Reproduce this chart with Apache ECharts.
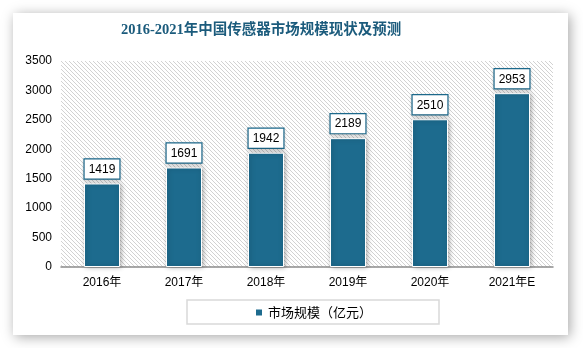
<!DOCTYPE html>
<html>
<head>
<meta charset="utf-8">
<script src="https://cdn.jsdelivr.net/npm/echarts@6/dist/echarts.min.js"></script>
<style>
  html, body { margin: 0; padding: 0; background: #ffffff; }
  #chart { width: 583px; height: 348px; }
</style>
</head>
<body>
<div id="chart"></div>
<script>
// Market size of China's sensor industry, 2016-2021 (2021 is an estimate)
const categories = ['2016年', '2017年', '2018年', '2019年', '2020年', '2021年E'];
const marketSize = [1419, 1691, 1942, 2189, 2510, 2953];
const yTicks = { min: 0, max: 3500, interval: 500 };
const seriesName = '市场规模（亿元）';
const titleText = '2016-2021年中国传感器市场规模现状及预测';

// Plot-area box (pixels)
const plot = { left: 61, top: 61, right: 30, bottom: 81 };

// Diagonal hatch tile for the plot background
function hatchTile() {
  const c = document.createElement('canvas');
  c.width = 8; c.height = 8;
  const ctx = c.getContext('2d');
  ctx.fillStyle = '#ffffff';
  ctx.fillRect(0, 0, 8, 8);
  ctx.fillStyle = '#d2d2d2';
  for (let i = 0; i < 8; i++) {
    ctx.fillRect(i, i, 1, 1);
    ctx.fillRect(i, (i + 4) % 8, 1, 1);
  }
  return c;
}

const barColor = '#1d6b8e';
const W = 583, H = 348;
const chart = echarts.init(document.getElementById('chart'), null, { renderer: 'canvas' });

chart.setOption({
  animation: false,
  backgroundColor: '#ffffff',
  graphic: [{
    type: 'rect',
    z: -10,
    shape: { x: 13, y: 13, width: 555, height: 322 },
    style: {
      fill: '#ffffff',
      shadowBlur: 12,
      shadowColor: 'rgba(0,0,0,0.35)',
      shadowOffsetX: 2,
      shadowOffsetY: 2
    },
    silent: true
  }, {
    type: 'rect',
    z: -5,
    shape: {
      x: plot.left, y: plot.top,
      width: W - plot.left - plot.right,
      height: H - plot.top - plot.bottom
    },
    style: { fill: { image: hatchTile(), repeat: 'repeat' } },
    silent: true
  }],
  title: {
    text: titleText,
    left: 121,
    top: 23,
    padding: 0,
    textStyle: {
      fontFamily: '"Liberation Serif", "Noto Sans CJK SC", serif',
      fontSize: 14.5,
      fontWeight: 'bold',
      color: '#1b5b7c'
    }
  },
  legend: {
    data: [seriesName],
    left: 187,
    top: 300,
    padding: [6, 67, 5, 67],
    borderColor: '#d9d9d9',
    borderWidth: 1.5,
    itemWidth: 8,
    itemHeight: 8,
    itemGap: 5,
    icon: 'rect',
    textStyle: {
      fontFamily: '"Noto Sans CJK SC", sans-serif',
      fontSize: 13,
      color: '#000000'
    }
  },
  grid: {
    left: plot.left,
    right: plot.right,
    top: plot.top,
    bottom: plot.bottom
  },
  xAxis: {
    type: 'category',
    data: categories,
    axisLine: { lineStyle: { color: '#8c8c8c', width: 1.5 } },
    axisTick: { show: false },
    axisLabel: {
      margin: 10,
      fontFamily: '"Liberation Sans", "Noto Sans CJK SC", sans-serif',
      fontSize: 12,
      color: '#000000'
    }
  },
  yAxis: {
    type: 'value',
    min: yTicks.min,
    max: yTicks.max,
    interval: yTicks.interval,
    axisLine: { show: false },
    axisTick: { show: false },
    splitLine: { show: false },
    axisLabel: {
      margin: 9,
      formatter: (v) => String(v),
      fontFamily: '"Liberation Sans", sans-serif',
      fontSize: 12,
      color: '#000000'
    }
  },
  series: [{
    name: seriesName,
    type: 'bar',
    data: marketSize,
    barWidth: 36,
    itemStyle: {
      color: barColor,
      borderColor: '#ffffff',
      borderWidth: 1,
      shadowBlur: 5,
      shadowColor: 'rgba(0,0,0,0.35)',
      shadowOffsetX: 1,
      shadowOffsetY: 0
    },
    label: {
      show: true,
      position: 'top',
      distance: 5,
      fontFamily: '"Liberation Sans", sans-serif',
      fontSize: 12,
      color: '#000000',
      backgroundColor: '#ffffff',
      borderColor: barColor,
      borderWidth: 1.2,
      padding: [4, 4, 3, 4],
      shadowBlur: 3,
      shadowColor: 'rgba(0,0,0,0.2)',
      shadowOffsetY: 1
    }
  }]
});
</script>
</body>
</html>
